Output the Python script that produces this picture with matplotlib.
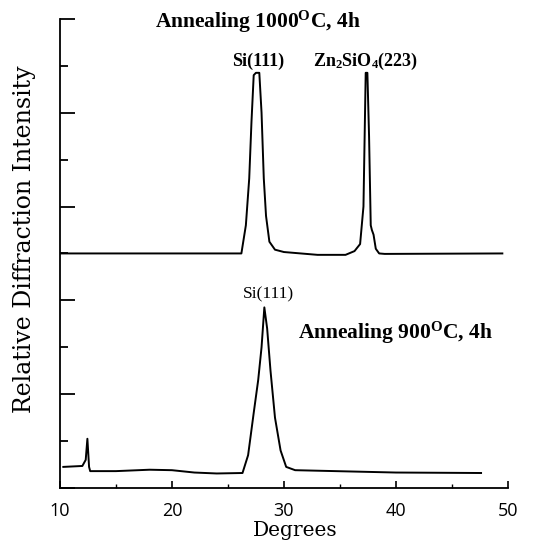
import matplotlib
matplotlib.use("Agg")
import matplotlib.pyplot as plt
from matplotlib.ticker import MultipleLocator

# XRD-kurvor (grader, relativ intensitet)
x_1000 = [10.1, 26.2, 26.6, 26.9, 27.1, 27.3, 27.5, 27.8, 28.0, 28.2, 28.4, 28.7,
          29.2, 30.0, 33.0, 35.5, 36.3, 36.8, 37.1, 37.3, 37.45, 37.6, 37.75,
          37.85, 38.0, 38.2, 38.5, 39.0, 49.5]
y_1000 = [5.0, 5.0, 5.6, 6.6, 7.8, 8.8, 8.85, 8.85, 8.0, 6.6, 5.8, 5.25,
          5.08, 5.03, 4.97, 4.97, 5.05, 5.2, 6.0, 8.85, 8.85, 7.5, 5.6,
          5.5, 5.4, 5.1, 5.0, 4.99, 5.0]

x_900 = [10.3, 12.0, 12.3, 12.45, 12.6, 12.7, 15.0, 18.0, 20.0, 22.0, 24.0, 26.3,
         26.8, 27.3, 27.7, 28.0, 28.25, 28.5, 28.8, 29.2, 29.7, 30.2, 31.0, 40.0, 47.6]
y_900 = [0.45, 0.47, 0.6, 1.05, 0.45, 0.36, 0.36, 0.39, 0.38, 0.33, 0.31, 0.32,
         0.7, 1.6, 2.3, 3.0, 3.85, 3.4, 2.5, 1.5, 0.8, 0.45, 0.38, 0.33, 0.32]

title_1000 = "Annealing 1000$^{\\mathbf{O}}$C, 4h"
title_900 = "Annealing 900$^{\\mathbf{O}}$C, 4h"
peak_si = "Si(111)"
peak_zn = "Zn$_{\\mathbf{2}}$SiO$_{\\mathbf{4}}$(223)"

plt.rcParams['mathtext.fontset'] = 'custom'
plt.rcParams['mathtext.rm'] = 'Liberation Serif'
plt.rcParams['mathtext.it'] = 'Liberation Serif:italic'
plt.rcParams['mathtext.bf'] = 'Liberation Serif:bold'

fig = plt.figure(figsize=(5.45, 5.5), dpi=100)
ax = fig.add_axes([0.110, 0.1127, 0.822, 0.853])

ax.plot(x_1000, y_1000, color='black', lw=1.4)
ax.plot(x_900, y_900, color='black', lw=1.4)

ax.set_xlim(10, 50)
ax.set_ylim(0, 10)

# bara vänster och nedre axel
ax.spines['top'].set_visible(False)
ax.spines['right'].set_visible(False)
ax.spines['left'].set_linewidth(1.3)
ax.spines['bottom'].set_linewidth(1.3)

ax.xaxis.set_major_locator(MultipleLocator(10))
ax.xaxis.set_minor_locator(MultipleLocator(5))
ax.yaxis.set_major_locator(MultipleLocator(2))
ax.yaxis.set_minor_locator(MultipleLocator(1))
ax.tick_params(axis='x', which='major', direction='in', length=5, width=1.2,
               labelsize=13, pad=10)
ax.tick_params(axis='x', which='minor', direction='in', length=3, width=1)
ax.tick_params(axis='y', which='major', direction='in', length=11, width=1.3,
               labelleft=False)
ax.tick_params(axis='y', which='minor', direction='in', length=6, width=1.3)
for lab in ax.get_xticklabels():
    lab.set_fontfamily('Open Sans')

# axeltitlar
fig.text(24.5 / 545, 1 - 239 / 550, "Relative Diffraction Intensity", rotation=90,
         ha='center', va='center', fontsize=17, family='DejaVu Serif')
fig.text(295 / 545, 1 - 530 / 550, "Degrees", ha='center', va='center',
         fontsize=14.5, family='DejaVu Serif')

# texter i grafen
ax.text(27.7, 9.94, title_1000, ha='center', va='center', fontsize=15.5,
        family='Liberation Serif', weight='bold')
ax.text(27.7, 9.1, peak_si, ha='center', va='center', fontsize=13,
        family='Liberation Serif', weight='bold')
ax.text(37.3, 9.1, peak_zn, ha='center', va='center', fontsize=13,
        family='Liberation Serif', weight='bold')
ax.text(28.6, 4.13, peak_si, ha='center', va='center', fontsize=12.5,
        family='Liberation Serif')
ax.text(40.0, 3.3, title_900, ha='center', va='center', fontsize=15.5,
        family='Liberation Serif', weight='bold')

fig.savefig("out.png", dpi=100)
